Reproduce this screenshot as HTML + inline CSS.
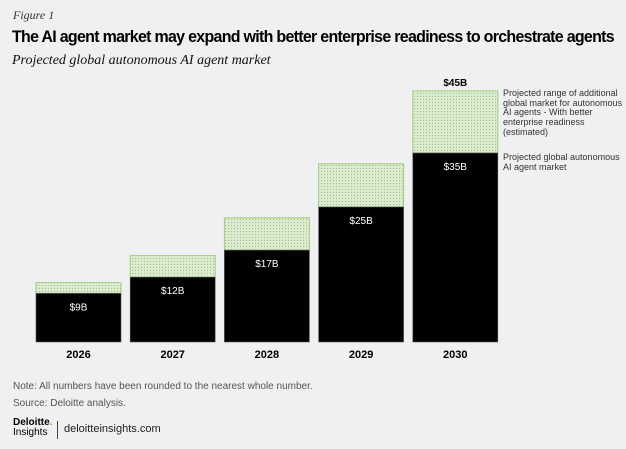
<!DOCTYPE html>
<html><head><meta charset="utf-8"><style>
html,body{margin:0;padding:0;background:#f0f0f2;}
body{width:626px;height:449px;position:relative;overflow:hidden;font-family:"Liberation Sans",sans-serif;}
.t{position:absolute;white-space:nowrap;}
</style></head><body>
<div class="t" style="left:13px;top:8px;font-family:'Liberation Serif',serif;font-style:italic;font-size:12px;color:#333;">Figure 1</div>
<div class="t" style="left:12px;top:27px;font-size:17px;font-weight:bold;letter-spacing:-0.75px;color:#000;transform:scaleX(0.94);transform-origin:left;">The AI agent market may expand with better enterprise readiness to orchestrate agents</div>
<div class="t" style="left:12px;top:53px;font-family:'Liberation Serif',serif;font-style:italic;font-size:14px;color:#111;">Projected global autonomous AI agent market</div>
<svg id="chart" width="626" height="449" style="position:absolute;left:0;top:0">
<defs><pattern id="dots" width="3" height="3" patternUnits="userSpaceOnUse"><rect width="3" height="3" fill="#dcebd0"/><rect width="1" height="1" fill="#9cc585"/></pattern></defs>
</svg>
<div class="t" style="left:503px;top:89px;font-size:9px;line-height:9.7px;color:#333;white-space:normal;width:120px;">Projected range of additional global market for autonomous AI agents - With better enterprise readiness (estimated)</div>
<div class="t" style="left:503px;top:153px;font-size:9px;line-height:9.7px;color:#333;white-space:normal;width:120px;">Projected global autonomous AI agent market</div>
<div class="t" style="left:13px;top:381px;font-size:10px;color:#555;">Note: All numbers have been rounded to the nearest whole number.</div>
<div class="t" style="left:13px;top:398px;font-size:10px;color:#555;">Source: Deloitte analysis.</div>
<div class="t" style="left:13px;top:418px;font-size:10px;font-weight:bold;color:#000;line-height:10px;">Deloitte<span style="color:#86bc25">.</span><br><span style="font-weight:normal;">Insights</span></div>
<div style="position:absolute;left:57px;top:421px;width:1px;height:18px;background:#444;"></div>
<div class="t" style="left:64px;top:423px;font-size:11px;color:#222;">deloitteinsights.com</div>
<script>
const years=["2026","2027","2028","2029","2030"];
const baseValues=[9,12,17,25,35];
const upperValues=[11,16,23,33,46.5];
const topLabel=["","","","","$45B"];
const svg=document.getElementById('chart');
const NS='http://www.w3.org/2000/svg';
const baseY=342,scale=5.4,x0=36,step=94.2,bw=85;
const xPos=i=>x0+i*step;
const yPos=v=>baseY-v*scale;
function mk(tag,attrs){const e=document.createElementNS(NS,tag);for(const k in attrs)e.setAttribute(k,attrs[k]);svg.appendChild(e);return e;}
years.forEach((yr,i)=>{
  const x=xPos(i);
  const g=mk('rect',{x:x,y:yPos(upperValues[i]),width:bw,height:(upperValues[i]-baseValues[i])*scale,fill:'url(#dots)',stroke:'#9ccf7a','stroke-width':1});
  
  
  const b=mk('rect',{x:x,y:yPos(baseValues[i]),width:bw,height:baseValues[i]*scale,fill:'#000',stroke:'#555','stroke-width':0.6});
  
  
  const l=mk('text',{x:x+bw/2,y:yPos(baseValues[i])+17,'text-anchor':'middle','font-size':10,fill:'#fff','font-family':'Liberation Sans, sans-serif'});
  l.textContent='$'+baseValues[i]+'B';
  
  
  const c=mk('text',{x:x+bw/2,y:baseY+16,'text-anchor':'middle','font-size':11,'font-weight':'bold',fill:'#000','font-family':'Liberation Sans, sans-serif'});
  c.textContent=yr;
  
  
  if(topLabel[i]){
    const t=mk('text',{x:x+bw/2,y:yPos(upperValues[i])-5,'text-anchor':'middle','font-size':10,'font-weight':'bold',fill:'#000','font-family':'Liberation Sans, sans-serif'});
    t.textContent=topLabel[i];
    
    
  }
});
</script>
</body></html>
